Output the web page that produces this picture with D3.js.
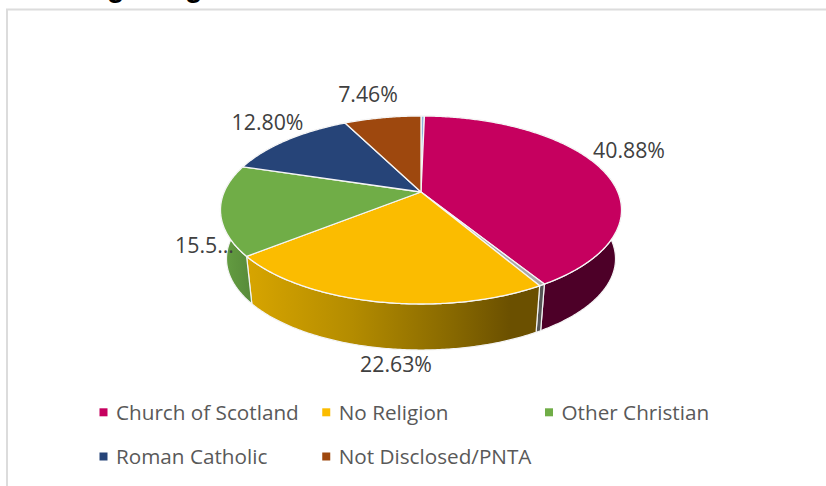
<!DOCTYPE html>
<html>
<head>
<meta charset="utf-8">
<script src="https://cdn.jsdelivr.net/npm/d3@7/dist/d3.min.js"></script>
<style>
  html, body { margin: 0; padding: 0; background: #fff; }
  svg { display: block; }
  text { font-family: "Open Sans", sans-serif; }
</style>
</head>
<body>
<svg id="chart" width="826" height="486"></svg>
<script>
// Religion shares, percent. The two unnamed slivers sit either side of the main slice.
const categories = ["Other", "Church of Scotland", "Not Answered", "No Religion", "Other Christian", "Roman Catholic", "Not Disclosed/PNTA"];
const shares = [0.33, 40.88, 0.40, 22.63, 15.50, 12.80, 7.46];
const valueLabels = ["", "40.88%", "", "22.63%", "15.5...", "12.80%", "7.46%"];
const faceColors = ["#8fb4dc", "#c6005f", "#a9a9a9", "#fbbc00", "#70ad47", "#264478", "#9e480e"];
const legendNames = ["Church of Scotland", "No Religion", "Other Christian", "Roman Catholic", "Not Disclosed/PNTA"];

const svg = d3.select("#chart");
const W = 826, H = 486;

// Tilted disc: a circle under a simple perspective projection.
const disc = { cx: 421, cy: 192, R: 196.8, B: 90.55, k: 0.1915 };
// The lower rim is the upper rim scaled toward a vanishing point far below.
const wallScale = 0.97, vanishY = 1837;

function rim(theta) {
  const u = Math.sin(theta), v = -Math.cos(theta), s = 1 / (1 - disc.k * v);
  return [disc.cx + disc.R * u * s, disc.cy + disc.B * v * s];
}
function lowerRim(theta) {
  const [x, y] = rim(theta);
  return [disc.cx + (x - disc.cx) * wallScale, vanishY + (y - vanishY) * wallScale];
}
function sweep(a0, a1) {
  const n = Math.max(2, Math.ceil((a1 - a0) / 0.01));
  return d3.range(n + 1).map(i => a0 + (a1 - a0) * i / n);
}

const arcs = d3.pie().sort(null).value(d => d).startAngle(0).endAngle(2 * Math.PI)(shares);
const line = d3.line();

// Shading of the outer walls
const defs = svg.append("defs");
const wallFill = ["#33506f", "#4d0028", "#555555", "url(#wall-yellow)", "url(#wall-green)", "#16294a", "#5e2b08"];
const yellowStops = [[0, "#d6a400"], [0.35, "#b48c00"], [0.7, "#876800"], [0.9, "#6b5000"], [1, "#6b5000"]];
const greenStops = [[0, "#659f42"], [1, "#578a39"]];
function gradient(id, x1, x2, stops) {
  const g = defs.append("linearGradient").attr("id", id)
    .attr("gradientUnits", "userSpaceOnUse")
    .attr("x1", x1).attr("x2", x2).attr("y1", 0).attr("y2", 0);
  g.selectAll("stop").data(stops).join("stop")
    .attr("offset", d => d[0]).attr("stop-color", d => d[1]);
}
gradient("wall-yellow", 250, 540, yellowStops);
gradient("wall-green", 222, 252, greenStops);

// Chart frame, open on the right and bottom
svg.append("path")
  .attr("d", line([[7, H], [7, 9.5], [W, 9.5]]))
  .attr("fill", "none").attr("stroke", "#dcdcdc").attr("stroke-width", 2);

// Clipped chart heading above the frame
svg.append("text")
  .attr("x", 107).attr("y", -3)
  .attr("font-size", 28.7).attr("font-weight", 700).attr("fill", "#000")
  .style("font-family", "'Liberation Sans', sans-serif")
  .text("g Religion");

// Outer walls first; the top faces cover whatever falls behind the disc
svg.append("g").selectAll("path").data(arcs).join("path")
  .attr("d", d => {
    const a = sweep(d.startAngle, d.endAngle);
    return line(a.map(rim).concat(a.slice().reverse().map(lowerRim))) + "Z";
  })
  .attr("fill", (d, i) => wallFill[i])
  .attr("stroke", "#f4f4f4").attr("stroke-width", 1.2).attr("stroke-linejoin", "round");

// Top faces
svg.append("g").selectAll("path").data(arcs).join("path")
  .attr("d", d => line([[disc.cx, disc.cy]].concat(sweep(d.startAngle, d.endAngle).map(rim))) + "Z")
  .attr("fill", (d, i) => faceColors[i])
  .attr("stroke", "#f6f6f6").attr("stroke-width", 1.3).attr("stroke-linejoin", "round");

// Value labels, placed by hand around the disc (text centre x, baseline y)
const labelSpots = [null, [629, 158], null, [396, 372], [204.5, 253], [267.5, 130], [368, 102]];
svg.append("g").selectAll("text").data(valueLabels).join("text")
  .filter(d => d !== "")
  .attr("x", d => labelSpots[valueLabels.indexOf(d)][0])
  .attr("y", d => labelSpots[valueLabels.indexOf(d)][1])
  .attr("text-anchor", "middle")
  .attr("font-size", 21.3).attr("fill", "#404040")
  .text(d => d);

// Legend: three columns, two rows
const legendX = d3.scalePoint().domain([0, 1, 2]).range([99.5, 545]);
const legendY = d3.scalePoint().domain([0, 1]).range([412.3, 456.5]);
const legendColors = legendNames.map(n => faceColors[categories.indexOf(n)]);
const legend = svg.append("g").selectAll("g").data(legendNames).join("g")
  .attr("transform", (d, i) => `translate(${legendX(i % 3)},${legendY(Math.floor(i / 3))})`);
legend.append("rect")
  .attr("x", 0).attr("y", -4).attr("width", 8).attr("height", 8)
  .attr("fill", (d, i) => legendColors[i]);
legend.append("text")
  .attr("x", 16.5).attr("y", 7.2)
  .attr("font-size", 20.7).attr("fill", "#595959")
  .text(d => d);
</script>
</body>
</html>
